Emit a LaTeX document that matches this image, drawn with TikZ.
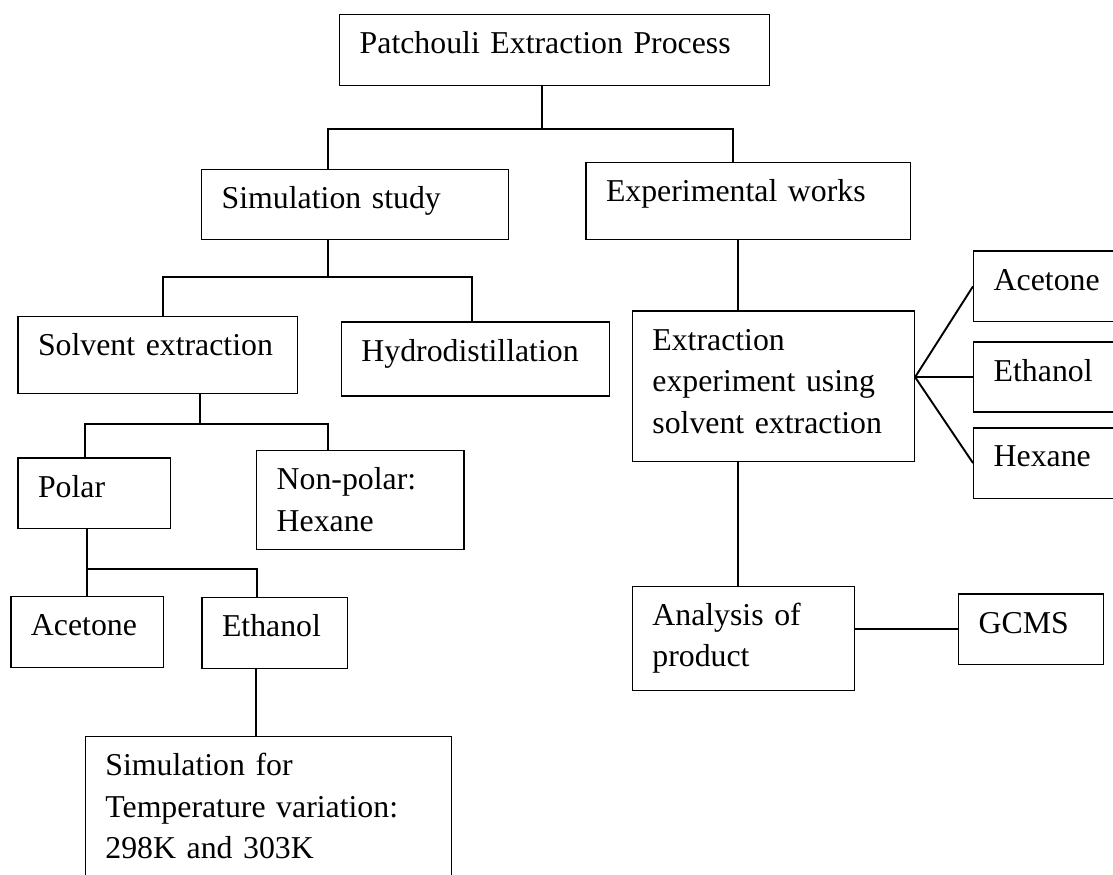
\documentclass[tikz,border=0pt]{standalone}
\usepackage{fontspec}
\setmainfont{Liberation Serif}
\usetikzlibrary{positioning}

\begin{document}
\begin{tikzpicture}[
  x=0.5pt, y=-0.5pt,
  % --- Styles ---
  pbox/.style 2 args={
    rectangle, draw, line width=0.7pt, anchor=north west,
    inner xsep=10pt, inner ysep=0pt, align=left,
    text width=#1, text height=19.5pt, text depth=#2,
    font=\fontsize{15.9pt}{20.75pt}\selectfont},
  myline/.style={line width=0.95pt},
]
\useasboundingbox (0,0) rectangle (1113,874);
\clip (0,0) rectangle (1113,874);

% === NODES ===
% 1. Root
\node[pbox={195pt}{16pt}] (top) at (339,14) {Patchouli Extraction Process};
% 2. Simulation branch
\node[pbox={133.5pt}{15.5pt}] (sim) at (201,169) {Simulation study};
\node[pbox={119.7pt}{19pt}] (solv) at (17.3,315.7) {Solvent extraction};
\node[pbox={114pt}{17.5pt}] (hydro) at (340.7,321.3) {Hydrodistillation};
\node[pbox={56.2pt}{15.7pt}] (polar) at (17.3,457.3) {Polar};
\node[pbox={83.65pt}{29.85pt}] (nonpol) at (256,450) {Non-polar:\\Hexane};
\node[pbox={56.35pt}{16.15pt}] (ace1) at (10.3,595.7) {Acetone};
\node[pbox={52.7pt}{16pt}] (eth1) at (201.3,597) {Ethanol};
\node[pbox={163.15pt}{60pt}] (temp) at (84.7,736) {%
  Simulation for\\Temperature variation:\\298K and 303K};
% 3. Experimental branch
\node[pbox={142.35pt}{19pt}] (exp) at (585.3,161.7) {Experimental works};
\node[pbox={121pt}{55.85pt}] (ext) at (631.7,310.3) {%
  Extraction\\experiment using\\solvent extraction};
\node[pbox={60pt}{15.85pt}] (ace2) at (973,250.3) {Acetone};
\node[pbox={60pt}{15.5pt}, below=9.5pt of ace2] (eth2) {Ethanol};
\node[pbox={60pt}{15.7pt}, below=7.15pt of eth2] (hex2) {Hexane};
\node[pbox={90.95pt}{32.75pt}] (ana) at (631.7,585.5) {Analysis of\\product};
\node[pbox={52.25pt}{15.85pt}] (gcms) at (958,593.3) {GCMS};

% === CONNECTORS ===
% Root split
\coordinate (b1) at (541.7,128.7);
\coordinate (b1l) at (328.3,128.7);
\coordinate (b1r) at (733.3,128.7);
\draw[myline] (top.south -| b1) -- (b1);
\draw[myline] (sim.north -| b1l) -- (b1l) -- (b1r) -- (exp.north -| b1r);
% Simulation split
\coordinate (b2) at (328.3,277.3);
\coordinate (b2l) at (163.3,277.3);
\coordinate (b2r) at (472.3,277.3);
\draw[myline] (sim.south -| b2) -- (b2);
\draw[myline] (solv.north -| b2l) -- (b2l) -- (b2r) -- (hydro.north -| b2r);
% Solvent split
\coordinate (b3) at (200.3,423.7);
\coordinate (b3l) at (85,423.7);
\coordinate (b3r) at (328.3,423.7);
\draw[myline] (solv.south -| b3) -- (b3);
\draw[myline] (polar.north -| b3l) -- (b3l) -- (b3r) -- (nonpol.north -| b3r);
% Polar split
\coordinate (b4) at (87.3,569);
\coordinate (b4r) at (256.7,569);
\draw[myline] (polar.south -| b4) -- (b4) -- (b4r) -- (eth1.north -| b4r);
\draw[myline] (b4) -- (ace1.north -| b4);
% Ethanol to temperature study
\coordinate (v1) at (255.7,700);
\draw[myline] (eth1.south -| v1) -- (temp.north -| v1);
% Experimental chain
\coordinate (v2) at (737.7,400);
\draw[myline] (exp.south -| v2) -- (ext.north -| v2);
\draw[myline] (ext.south -| v2) -- (ana.north -| v2);
% Solvent fan
\coordinate (fan) at (ext.east |- eth2.west);
\draw[myline] (ace2.west) -- (fan) -- (hex2.west);
\draw[myline] (fan) -- (eth2.west);
% Analysis
\draw[myline] (gcms.west) -- (gcms.west -| ana.east);
\end{tikzpicture}
\end{document}
